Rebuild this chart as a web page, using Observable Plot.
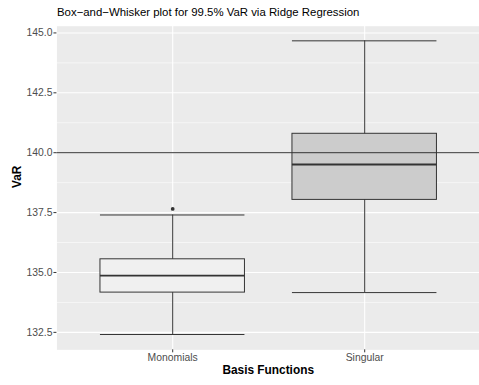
<!DOCTYPE html>
<html>
<head>
<meta charset="utf-8">
<script src="https://cdn.jsdelivr.net/npm/d3@7"></script>
<script src="https://cdn.jsdelivr.net/npm/@observablehq/plot@0.6"></script>
<style>
  html, body { margin: 0; padding: 0; background: white; overflow: hidden; }
  #wrap { position: relative; width: 479px; height: 385px; overflow: hidden; font-family: "Liberation Sans", Arial, Helvetica, sans-serif; }
  #title { position: absolute; left: 57px; top: 5px; font-size: 11.4px; line-height: 14px; color: #000; white-space: nowrap; }
  #chart { position: absolute; left: 0; top: 0; }
</style>
</head>
<body>
<div id="wrap">
  <div id="chart"></div>
  <div id="title"></div>
</div>
<script>
// ---- data ----
const categories   = ["Monomials", "Singular"];
const lowerWhisker = [132.41, 134.16];
const q1           = [134.16, 138.03];
const median       = [134.87, 139.51];
const q3           = [135.55, 140.79];
const upperWhisker = [137.40, 144.67];
const outlierCategory = ["Monomials"];
const outlierValue    = [137.65];
const referenceLine   = [140];
const yTicks      = [132.5, 135, 137.5, 140, 142.5, 145];
const yMinorTicks = [133.75, 136.25, 138.75, 141.25, 143.75];
const boxFills    = ["#f0f0f0", "#cccccc"];
const titleText   = "Box−and−Whisker plot for 99.5% VaR via Ridge Regression";
const xTitle = "Basis Functions";
const yTitle = "VaR";

document.getElementById("title").textContent = titleText;

const boxes = categories.map((c, i) => ({
  category: c, lo: lowerWhisker[i], q1: q1[i], med: median[i], q3: q3[i], hi: upperWhisker[i], fill: boxFills[i]
}));
const outliers = outlierCategory.map((c, i) => ({category: c, value: outlierValue[i]}));

const font = '"Liberation Sans", Arial, Helvetica, sans-serif';
const fmt = d3.format(".1f");

const chart = Plot.plot({
  width: 484,
  height: 385,
  marginTop: 26,
  marginBottom: 32,
  marginLeft: 57,
  marginRight: 0,
  style: {fontFamily: font, background: "white", overflow: "visible"},
  x: {type: "band", domain: categories, paddingInner: 0.25, paddingOuter: 0.225},
  y: {domain: [131.77, 145.28]},
  marks: [
    Plot.frame({fill: "#ebebeb", stroke: "none"}),
    Plot.gridY(yMinorTicks, {stroke: "white", strokeOpacity: 1, strokeWidth: 0.55}),
    Plot.gridY(yTicks, {stroke: "white", strokeOpacity: 1, strokeWidth: 1.1}),
    Plot.gridX(categories, {stroke: "white", strokeOpacity: 1, strokeWidth: 1.1}),
    // whiskers
    Plot.ruleX(boxes, {x: "category", y1: "lo", y2: "hi", stroke: "#333333", strokeWidth: 1}),
    Plot.tickY(boxes, {x: "category", y: "lo", stroke: "#333333", strokeWidth: 1}),
    Plot.tickY(boxes, {x: "category", y: "hi", stroke: "#333333", strokeWidth: 1}),
    // boxes
    Plot.barY(boxes, {x: "category", y1: "q1", y2: "q3", fill: "fill", stroke: "#333333", strokeWidth: 1}),
    Plot.tickY(boxes, {x: "category", y: "med", stroke: "#333333", strokeWidth: 1.9}),
    // outliers
    Plot.dot(outliers, {x: "category", y: "value", r: 1.9, fill: "#333333", stroke: "none"}),
    // reference line
    Plot.ruleY(referenceLine, {stroke: "#333333", strokeWidth: 1}),
    // axes
    Plot.axisY({ticks: yTicks, tickSize: 3, tickFormat: () => "", stroke: "#333333", label: null}),
    Plot.axisY({ticks: yTicks, tickSize: 0, tickPadding: 4.5, tickFormat: fmt, fill: "#4d4d4d", fontSize: 10.5, label: null}),
    Plot.axisX({tickSize: 3, tickFormat: () => "", stroke: "#333333", label: null}),
    Plot.axisX({tickSize: 0, tickPadding: 3.5, fill: "#4d4d4d", fontSize: 10.5, label: null}),
    // axis titles
    Plot.text([xTitle], {frameAnchor: "bottom", lineAnchor: "middle", dy: 21, text: d => d, fontSize: 12, fontWeight: "bold", fill: "black"}),
    Plot.text([yTitle], {frameAnchor: "left", lineAnchor: "middle", dx: -40, rotate: -90, text: d => d, fontSize: 12, fontWeight: "bold", fill: "black"})
  ]
});
document.getElementById("chart").appendChild(chart);
</script>
</body>
</html>
